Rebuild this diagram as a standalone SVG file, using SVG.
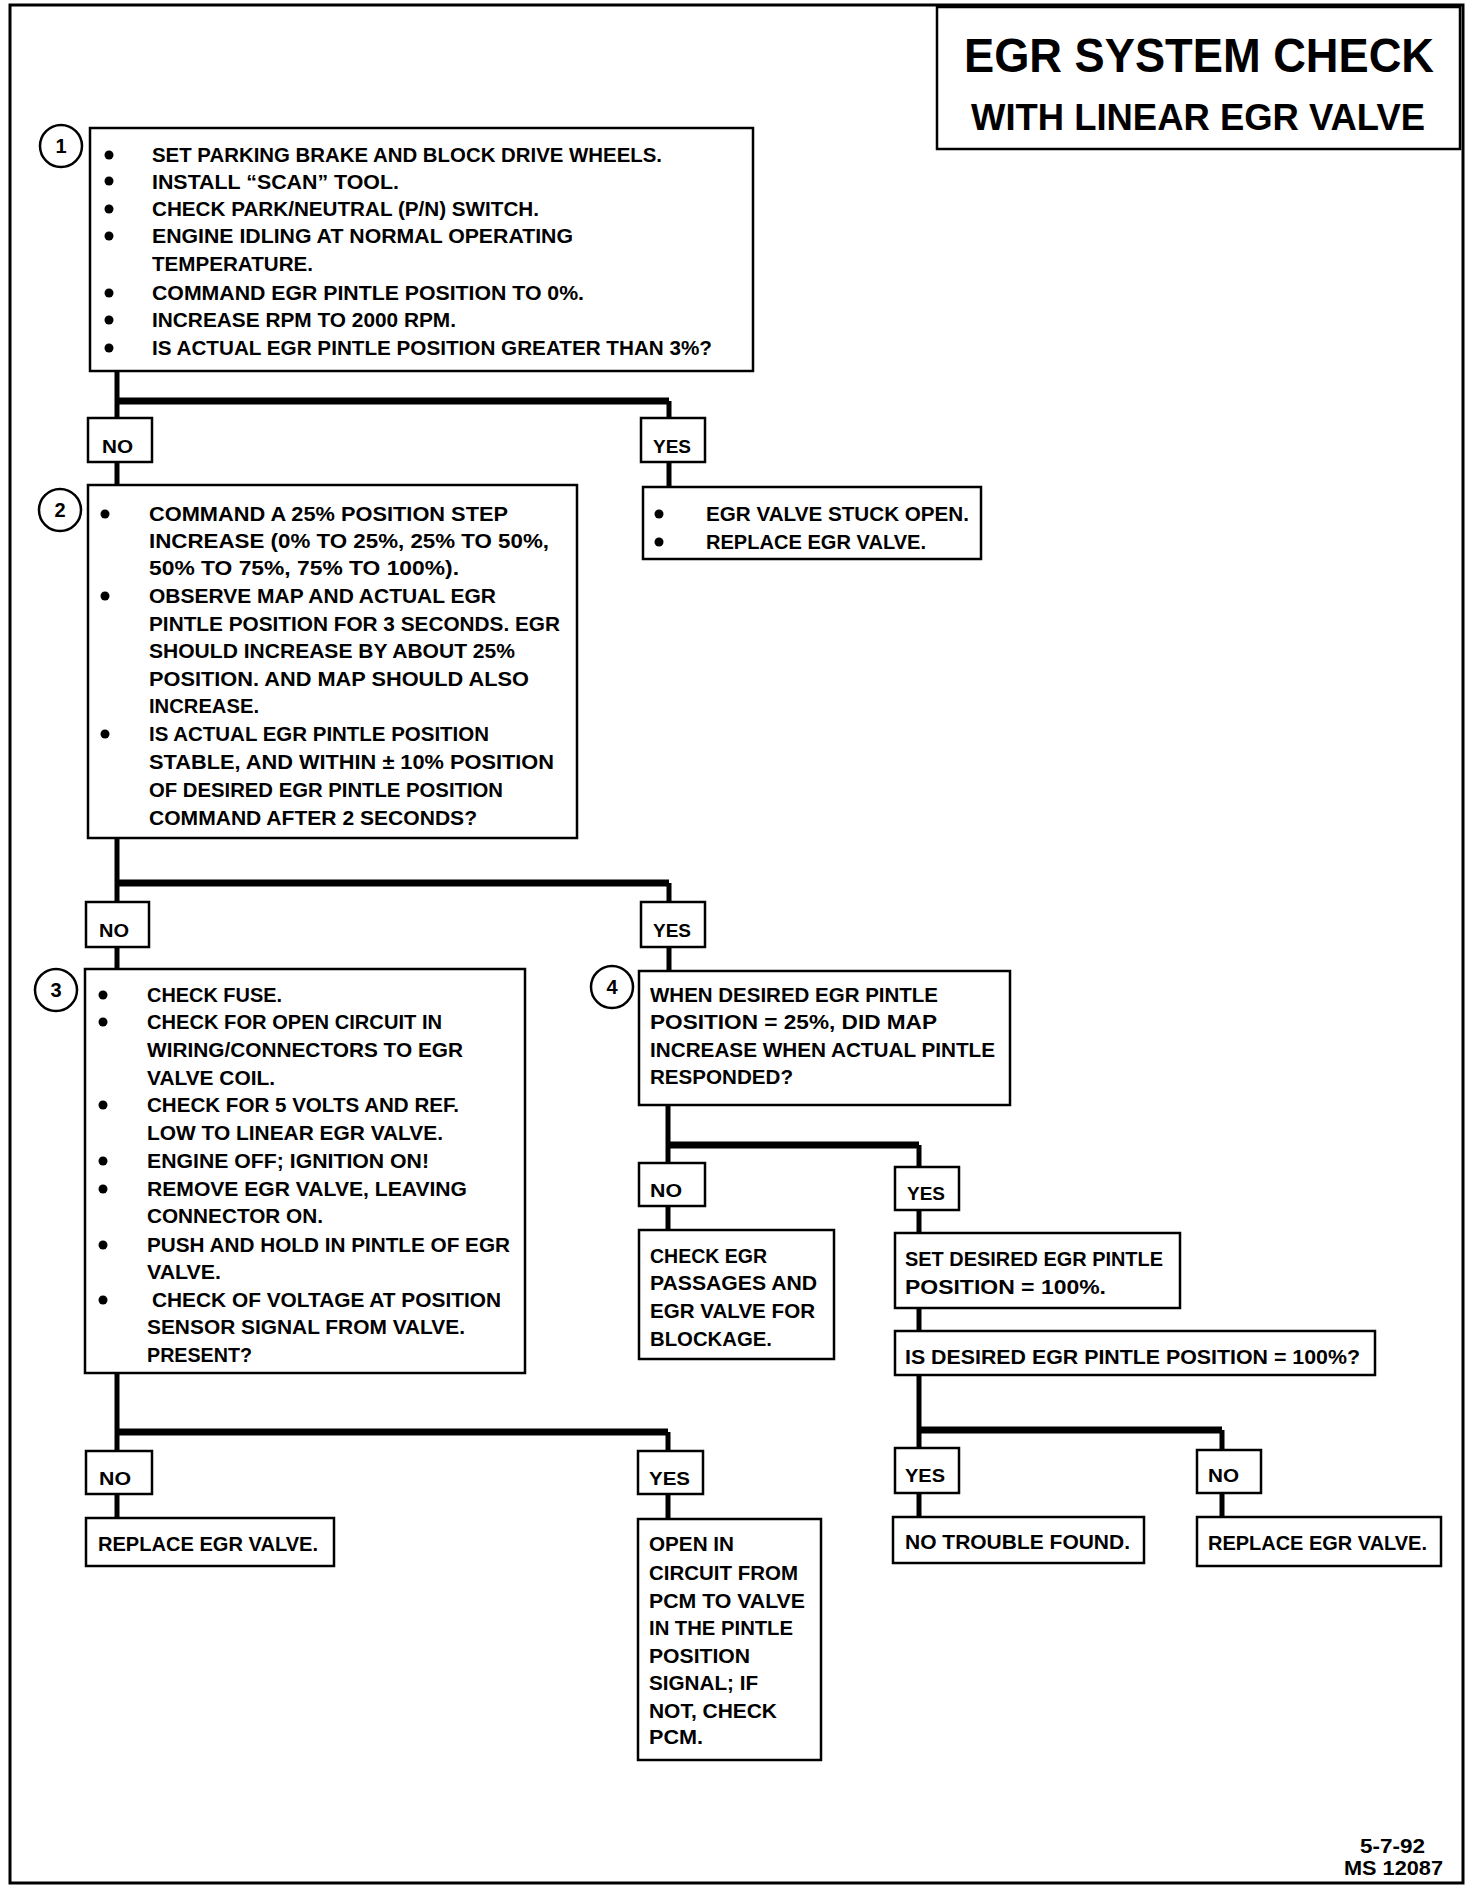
<svg xmlns="http://www.w3.org/2000/svg" width="1472" height="1888" viewBox="0 0 1472 1888">
<style>
.box{fill:#fff;stroke:#000;stroke-width:2.5}
.t{font-family:"Liberation Sans",Arial,sans-serif;font-weight:bold;font-size:20px;fill:#000}
.h1{font-family:"Liberation Sans",Arial,sans-serif;font-weight:bold;font-size:48px;fill:#000}
.h2{font-family:"Liberation Sans",Arial,sans-serif;font-weight:bold;font-size:37px;fill:#000}
.lb{font-family:"Liberation Sans",Arial,sans-serif;font-weight:bold;font-size:19px;fill:#000}
.num{font-family:"Liberation Sans",Arial,sans-serif;font-weight:bold;font-size:20px;fill:#000;text-anchor:middle}
.circ{fill:#fff;stroke:#000;stroke-width:2.5}
.c{stroke:#000;stroke-width:5;fill:none}
.bar{stroke:#000;stroke-width:7;fill:none}
.bul{fill:#000}
</style>
<rect x="0" y="0" width="1472" height="1888" fill="#fff"/>
<rect x="10" y="5" width="1453" height="1878" fill="none" stroke="#000" stroke-width="3"/>

<g id="title">
<rect class="box" x="937" y="7" width="523" height="142" stroke-width="3"/>
<text class="h1" x="964" y="72" textLength="470" lengthAdjust="spacingAndGlyphs">EGR SYSTEM CHECK</text>
<text class="h2" x="971" y="130" textLength="454" lengthAdjust="spacingAndGlyphs">WITH LINEAR EGR VALVE</text>
</g>

<g id="connectors">
<path class="c" d="M117,372 V418 M669,401 V418 M117,462 V485 M669,462 V487"/>
<path class="bar" d="M117,401 H669"/>
<path class="c" d="M117,838 V902 M669,883 V902 M117,947 V969 M669,947 V971"/>
<path class="bar" d="M117,883 H669"/>
<path class="c" d="M668,1105 V1163 M919,1145 V1167 M668,1206 V1230 M919,1210 V1233 M919,1308 V1331"/>
<path class="bar" d="M668,1145 H919"/>
<path class="c" d="M117,1373 V1451 M668,1432 V1451 M117,1494 V1518 M668,1494 V1519"/>
<path class="bar" d="M117,1432 H668"/>
<path class="c" d="M919,1375 V1448 M1222,1430 V1450 M919,1493 V1517 M1222,1493 V1517"/>
<path class="bar" d="M919,1430 H1222"/>
</g>

<g id="node1">
<circle class="circ" cx="61" cy="146" r="21"/>
<text class="num" x="61" y="153">1</text>
<rect class="box" x="90" y="128" width="663" height="243"/>
<circle class="bul" cx="109" cy="155" r="4.5"/>
<circle class="bul" cx="109" cy="181" r="4.5"/>
<circle class="bul" cx="109" cy="209" r="4.5"/>
<circle class="bul" cx="109" cy="236" r="4.5"/>
<circle class="bul" cx="109" cy="293" r="4.5"/>
<circle class="bul" cx="109" cy="320" r="4.5"/>
<circle class="bul" cx="109" cy="348" r="4.5"/>
<text class="t" x="152" y="162" textLength="510" lengthAdjust="spacingAndGlyphs">SET PARKING BRAKE AND BLOCK DRIVE WHEELS.</text>
<text class="t" x="152" y="189" textLength="247" lengthAdjust="spacingAndGlyphs">INSTALL “SCAN” TOOL.</text>
<text class="t" x="152" y="216" textLength="387" lengthAdjust="spacingAndGlyphs">CHECK PARK/NEUTRAL (P/N) SWITCH.</text>
<text class="t" x="152" y="243" textLength="421" lengthAdjust="spacingAndGlyphs">ENGINE IDLING AT NORMAL OPERATING</text>
<text class="t" x="152" y="271" textLength="161" lengthAdjust="spacingAndGlyphs">TEMPERATURE.</text>
<text class="t" x="152" y="300" textLength="432" lengthAdjust="spacingAndGlyphs">COMMAND EGR PINTLE POSITION TO 0%.</text>
<text class="t" x="152" y="327" textLength="304" lengthAdjust="spacingAndGlyphs">INCREASE RPM TO 2000 RPM.</text>
<text class="t" x="152" y="355" textLength="560" lengthAdjust="spacingAndGlyphs">IS ACTUAL EGR PINTLE POSITION GREATER THAN 3%?</text>
</g>

<g id="no1"><rect class="box" x="88" y="418" width="64" height="44"/><text class="lb" x="102" y="453" textLength="31" lengthAdjust="spacingAndGlyphs">NO</text></g>
<g id="yes1"><rect class="box" x="641" y="418" width="64" height="44"/><text class="lb" x="653" y="453" textLength="38" lengthAdjust="spacingAndGlyphs">YES</text></g>

<g id="node2">
<circle class="circ" cx="60" cy="510" r="21"/>
<text class="num" x="60" y="517">2</text>
<rect class="box" x="88" y="485" width="489" height="353"/>
<circle class="bul" cx="105" cy="514" r="4.5"/>
<circle class="bul" cx="105" cy="596" r="4.5"/>
<circle class="bul" cx="105" cy="734" r="4.5"/>
<text class="t" x="149" y="521" textLength="359" lengthAdjust="spacingAndGlyphs">COMMAND A 25% POSITION STEP</text>
<text class="t" x="149" y="548" textLength="400" lengthAdjust="spacingAndGlyphs">INCREASE  (0% TO 25%, 25% TO 50%,</text>
<text class="t" x="149" y="575" textLength="310" lengthAdjust="spacingAndGlyphs">50% TO 75%, 75% TO 100%).</text>
<text class="t" x="149" y="603" textLength="347" lengthAdjust="spacingAndGlyphs">OBSERVE MAP AND ACTUAL EGR</text>
<text class="t" x="149" y="631" textLength="411" lengthAdjust="spacingAndGlyphs">PINTLE POSITION FOR 3 SECONDS.  EGR</text>
<text class="t" x="149" y="658" textLength="366" lengthAdjust="spacingAndGlyphs">SHOULD INCREASE BY ABOUT 25%</text>
<text class="t" x="149" y="686" textLength="380" lengthAdjust="spacingAndGlyphs">POSITION.  AND MAP SHOULD ALSO</text>
<text class="t" x="149" y="713" textLength="110" lengthAdjust="spacingAndGlyphs">INCREASE.</text>
<text class="t" x="149" y="741" textLength="340" lengthAdjust="spacingAndGlyphs">IS ACTUAL EGR PINTLE POSITION</text>
<text class="t" x="149" y="769" textLength="405" lengthAdjust="spacingAndGlyphs">STABLE, AND WITHIN ± 10% POSITION</text>
<text class="t" x="149" y="797" textLength="354" lengthAdjust="spacingAndGlyphs">OF DESIRED EGR PINTLE POSITION</text>
<text class="t" x="149" y="825" textLength="328" lengthAdjust="spacingAndGlyphs">COMMAND AFTER 2 SECONDS?</text>
</g>

<g id="stuck">
<rect class="box" x="643" y="487" width="338" height="72"/>
<circle class="bul" cx="659" cy="514" r="4.5"/>
<circle class="bul" cx="659" cy="542" r="4.5"/>
<text class="t" x="706" y="521" textLength="263" lengthAdjust="spacingAndGlyphs">EGR VALVE STUCK OPEN.</text>
<text class="t" x="706" y="549" textLength="220" lengthAdjust="spacingAndGlyphs">REPLACE EGR VALVE.</text>
</g>

<g id="no2"><rect class="box" x="86" y="902" width="63" height="45"/><text class="lb" x="99" y="937" textLength="30" lengthAdjust="spacingAndGlyphs">NO</text></g>
<g id="yes2"><rect class="box" x="641" y="902" width="64" height="45"/><text class="lb" x="653" y="937" textLength="38" lengthAdjust="spacingAndGlyphs">YES</text></g>

<g id="node3">
<circle class="circ" cx="56" cy="990" r="21"/>
<text class="num" x="56" y="997">3</text>
<rect class="box" x="85" y="969" width="440" height="404"/>
<circle class="bul" cx="103" cy="995" r="4.5"/>
<circle class="bul" cx="103" cy="1022" r="4.5"/>
<circle class="bul" cx="103" cy="1105" r="4.5"/>
<circle class="bul" cx="103" cy="1161" r="4.5"/>
<circle class="bul" cx="103" cy="1189" r="4.5"/>
<circle class="bul" cx="103" cy="1245" r="4.5"/>
<circle class="bul" cx="103" cy="1300" r="4.5"/>
<text class="t" x="147" y="1002" textLength="135" lengthAdjust="spacingAndGlyphs">CHECK FUSE.</text>
<text class="t" x="147" y="1029" textLength="295" lengthAdjust="spacingAndGlyphs">CHECK FOR OPEN CIRCUIT IN</text>
<text class="t" x="147" y="1057" textLength="316" lengthAdjust="spacingAndGlyphs">WIRING/CONNECTORS TO EGR</text>
<text class="t" x="147" y="1085" textLength="128" lengthAdjust="spacingAndGlyphs">VALVE COIL.</text>
<text class="t" x="147" y="1112" textLength="312" lengthAdjust="spacingAndGlyphs">CHECK FOR 5 VOLTS AND REF.</text>
<text class="t" x="147" y="1140" textLength="296" lengthAdjust="spacingAndGlyphs">LOW TO LINEAR EGR VALVE.</text>
<text class="t" x="147" y="1168" textLength="282" lengthAdjust="spacingAndGlyphs">ENGINE OFF; IGNITION ON!</text>
<text class="t" x="147" y="1196" textLength="320" lengthAdjust="spacingAndGlyphs">REMOVE EGR VALVE, LEAVING</text>
<text class="t" x="147" y="1223" textLength="176" lengthAdjust="spacingAndGlyphs">CONNECTOR ON.</text>
<text class="t" x="147" y="1252" textLength="363" lengthAdjust="spacingAndGlyphs">PUSH AND HOLD IN PINTLE OF EGR</text>
<text class="t" x="147" y="1279" textLength="74" lengthAdjust="spacingAndGlyphs">VALVE.</text>
<text class="t" x="152" y="1307" textLength="349" lengthAdjust="spacingAndGlyphs">CHECK OF VOLTAGE AT POSITION</text>
<text class="t" x="147" y="1334" textLength="318" lengthAdjust="spacingAndGlyphs">SENSOR SIGNAL FROM VALVE.</text>
<text class="t" x="147" y="1362" textLength="105" lengthAdjust="spacingAndGlyphs">PRESENT?</text>
</g>

<g id="node4">
<circle class="circ" cx="612" cy="987" r="21"/>
<text class="num" x="612" y="994">4</text>
<rect class="box" x="639" y="971" width="371" height="134"/>
<text class="t" x="650" y="1002" textLength="288" lengthAdjust="spacingAndGlyphs">WHEN DESIRED EGR PINTLE</text>
<text class="t" x="650" y="1029" textLength="287" lengthAdjust="spacingAndGlyphs">POSITION  = 25%, DID MAP</text>
<text class="t" x="650" y="1057" textLength="345" lengthAdjust="spacingAndGlyphs">INCREASE WHEN ACTUAL PINTLE</text>
<text class="t" x="650" y="1084" textLength="143" lengthAdjust="spacingAndGlyphs">RESPONDED?</text>
</g>

<g id="no3"><rect class="box" x="639" y="1163" width="66" height="43"/><text class="lb" x="650" y="1197" textLength="32" lengthAdjust="spacingAndGlyphs">NO</text></g>
<g id="yes3"><rect class="box" x="895" y="1167" width="64" height="43"/><text class="lb" x="907" y="1200" textLength="38" lengthAdjust="spacingAndGlyphs">YES</text></g>

<g id="checkegr">
<rect class="box" x="639" y="1230" width="195" height="129"/>
<text class="t" x="650" y="1263" textLength="117" lengthAdjust="spacingAndGlyphs">CHECK EGR</text>
<text class="t" x="650" y="1290" textLength="167" lengthAdjust="spacingAndGlyphs">PASSAGES AND</text>
<text class="t" x="650" y="1318" textLength="165" lengthAdjust="spacingAndGlyphs">EGR VALVE FOR</text>
<text class="t" x="650" y="1346" textLength="122" lengthAdjust="spacingAndGlyphs">BLOCKAGE.</text>
</g>

<g id="setdesired">
<rect class="box" x="895" y="1233" width="285" height="75"/>
<text class="t" x="905" y="1266" textLength="258" lengthAdjust="spacingAndGlyphs">SET DESIRED EGR PINTLE</text>
<text class="t" x="905" y="1294" textLength="201" lengthAdjust="spacingAndGlyphs">POSITION  = 100%.</text>
</g>

<g id="isdesired">
<rect class="box" x="895" y="1331" width="480" height="44"/>
<text class="t" x="905" y="1364" textLength="455" lengthAdjust="spacingAndGlyphs">IS DESIRED EGR PINTLE POSITION  = 100%?</text>
</g>

<g id="no4"><rect class="box" x="86" y="1451" width="66" height="43"/><text class="lb" x="99" y="1485" textLength="32" lengthAdjust="spacingAndGlyphs">NO</text></g>
<g id="yes4"><rect class="box" x="638" y="1451" width="65" height="43"/><text class="lb" x="649" y="1485" textLength="41" lengthAdjust="spacingAndGlyphs">YES</text></g>

<g id="replace1">
<rect class="box" x="86" y="1518" width="248" height="48"/>
<text class="t" x="98" y="1551" textLength="220" lengthAdjust="spacingAndGlyphs">REPLACE EGR VALVE.</text>
</g>

<g id="openin">
<rect class="box" x="638" y="1519" width="183" height="241"/>
<text class="t" x="649" y="1551" textLength="85" lengthAdjust="spacingAndGlyphs">OPEN IN</text>
<text class="t" x="649" y="1580" textLength="149" lengthAdjust="spacingAndGlyphs">CIRCUIT FROM</text>
<text class="t" x="649" y="1608" textLength="156" lengthAdjust="spacingAndGlyphs">PCM TO VALVE</text>
<text class="t" x="649" y="1635" textLength="144" lengthAdjust="spacingAndGlyphs">IN THE PINTLE</text>
<text class="t" x="649" y="1663" textLength="101" lengthAdjust="spacingAndGlyphs">POSITION</text>
<text class="t" x="649" y="1690" textLength="109" lengthAdjust="spacingAndGlyphs">SIGNAL; IF</text>
<text class="t" x="649" y="1718" textLength="128" lengthAdjust="spacingAndGlyphs">NOT, CHECK</text>
<text class="t" x="649" y="1744" textLength="54" lengthAdjust="spacingAndGlyphs">PCM.</text>
</g>

<g id="yes5"><rect class="box" x="895" y="1448" width="64" height="45"/><text class="lb" x="905" y="1482" textLength="40" lengthAdjust="spacingAndGlyphs">YES</text></g>
<g id="no5"><rect class="box" x="1197" y="1450" width="64" height="43"/><text class="lb" x="1208" y="1482" textLength="31" lengthAdjust="spacingAndGlyphs">NO</text></g>

<g id="notrouble">
<rect class="box" x="893" y="1517" width="251" height="46"/>
<text class="t" x="905" y="1549" textLength="225" lengthAdjust="spacingAndGlyphs">NO TROUBLE FOUND.</text>
</g>

<g id="replace2">
<rect class="box" x="1197" y="1517" width="244" height="49"/>
<text class="t" x="1208" y="1550" textLength="219" lengthAdjust="spacingAndGlyphs">REPLACE EGR VALVE.</text>
</g>

<g id="footer">
<text class="t" x="1425" y="1853" text-anchor="end" textLength="65" lengthAdjust="spacingAndGlyphs">5-7-92</text>
<text class="t" x="1443" y="1875" text-anchor="end" textLength="99" lengthAdjust="spacingAndGlyphs">MS 12087</text>
</g>
</svg>
